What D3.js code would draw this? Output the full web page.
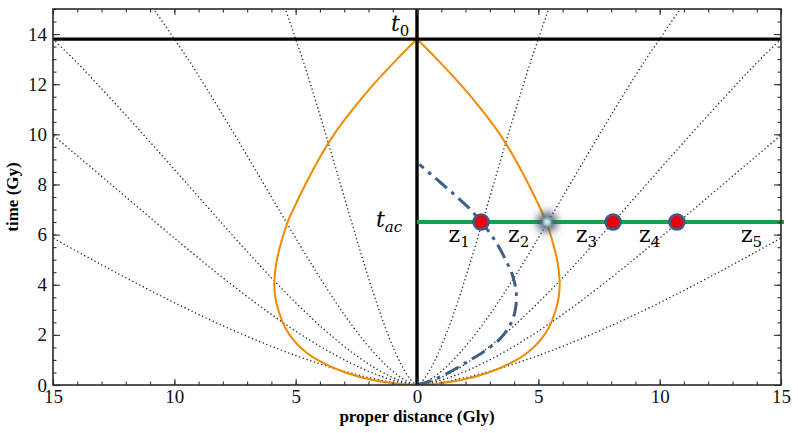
<!DOCTYPE html>
<html>
<head>
<meta charset="utf-8">
<script src="https://cdn.jsdelivr.net/npm/d3@7"></script>
<style>
  body { margin: 0; background: #fff; }
  svg text { font-family: "Liberation Serif", "DejaVu Serif", serif; }
  .math { font-family: "DejaVu Serif", serif; }
</style>
</head>
<body>
<svg id="chart"></svg>
<script>
    // scale factor a(t)/a0
    const ageGy = [0, 0.02, 0.05, 0.1, 0.25, 0.5, 1, 1.5, 2, 3, 4, 5, 6, 7, 8, 9, 10, 11, 12, 13, 13.8, 14, 15];
    const scaleFactor = [0, 0.011, 0.0203, 0.0322, 0.0593, 0.0942, 0.1496, 0.1962, 0.2381, 0.3133, 0.3817, 0.4463,
        0.5085, 0.5695, 0.6302, 0.6910, 0.7523, 0.8147, 0.8780, 0.9434, 1.0, 1.0139, 1.0851];
    // present-day distance of each comoving galaxy (Gly)
    const comovingGly = [5, 10, 15, 20, 30];

    // past light cone of the observer today (orange)
    const coneT = [0, 0.03, 0.1, 0.25, 0.5, 1, 1.5, 2, 3, 4, 5, 6, 6.5, 7, 8, 9, 10, 11, 12, 13, 13.8];
    const coneD = [0, 0.55, 1.2, 2.05, 2.95, 4.1, 4.8, 5.25, 5.72, 5.88, 5.77, 5.5, 5.33, 5.1, 4.6, 4.05, 3.42, 2.65, 1.78, 0.82, 0];

    // dash-dot blue curve
    const lookT = [0, 0.08, 0.3, 0.6, 1.0, 1.3, 1.8, 2.3, 2.9, 3.5, 4.3, 5.0, 6.0, 6.5, 7.0, 7.5, 8.2, 8.8];
    const lookD = [0, 0.3, 0.9, 1.5, 2.2, 2.7, 3.38, 3.78, 4.03, 4.1, 3.96, 3.65, 3.05, 2.65, 2.2, 1.65, 0.82, 0.1];

    const tNow = 13.8;
    const tAc = 6.5;
    const dotD = [2.64, 8.08, 10.71];   // red galaxies
    const glowD = 5.36;                 // galaxy on the light cone
    const zLabels = [["1", 1.55], ["2", 4.0], ["3", 6.8], ["4", 9.4], ["5", 13.6]];

    const xTicks = [-15, -10, -5, 0, 5, 10, 15];
    const yTicks = [0, 2, 4, 6, 8, 10, 12, 14];

    //dimensions
    const W = 798, H = 433;
    const margin = {top: 9, right: 17, bottom: 48, left: 53};

    const svg = d3.select("#chart").attr("width", W).attr("height", H);

    const x = d3.scaleLinear().domain([-15, 15]).range([margin.left, W - margin.right]);
    const y = d3.scaleLinear().domain([0, 15]).range([H - margin.bottom, margin.top]);

    const defs = svg.append("defs");
    defs.append("clipPath").attr("id", "clip")
        .append("rect")
        .attr("x", x(-15)).attr("y", y(15))
        .attr("width", x(15) - x(-15)).attr("height", y(0) - y(15));

    const plot = svg.append("g").attr("clip-path", "url(#clip)");

    const lineY = d3.line()
        .x(d => x(d[0]))
        .y(d => y(d[1]))
        .curve(d3.curveMonotoneY);

    // comoving worldlines
    comovingGly.forEach(D => {
        [-1, 1].forEach(s => {
            plot.append("path")
                .datum(ageGy.map((t, i) => [s * D * scaleFactor[i], t]))
                .attr("d", lineY)
                .attr("fill", "none")
                .attr("stroke", "#333")
                .attr("stroke-width", 1.6)
                .attr("stroke-linecap", "round")
                .attr("stroke-dasharray", "0 3.9");
        });
    });

    // orange light cone
    [-1, 1].forEach(s => {
        plot.append("path")
            .datum(coneT.map((t, i) => [s * coneD[i], t]))
            .attr("d", lineY)
            .attr("fill", "none")
            .attr("stroke", "#f28a00")
            .attr("stroke-width", 2);
    });

    // t0 line and x=0 line
    svg.append("line")
        .attr("x1", x(-15)).attr("x2", x(15))
        .attr("y1", y(tNow)).attr("y2", y(tNow))
        .attr("stroke", "#000").attr("stroke-width", 3.4);
    svg.append("line")
        .attr("x1", x(0)).attr("x2", x(0))
        .attr("y1", y(15)).attr("y2", y(0))
        .attr("stroke", "#000").attr("stroke-width", 3.4);

    // blue dash-dot
    plot.append("path")
        .datum(lookT.map((t, i) => [lookD[i], t]))
        .attr("d", lineY)
        .attr("fill", "none")
        .attr("stroke", "#3e5f86")
        .attr("stroke-width", 3)
        .attr("stroke-dasharray", "15 6 3.5 6");

    // green t_ac line
    svg.append("line")
        .attr("x1", x(0)).attr("x2", x(15) + 3)
        .attr("y1", y(tAc)).attr("y2", y(tAc))
        .attr("stroke", "#14a04c").attr("stroke-width", 4);

    // glowing galaxy
    defs.append("filter").attr("id", "blur").attr("x", "-100%").attr("y", "-100%").attr("width", "300%").attr("height", "300%")
        .append("feGaussianBlur").attr("stdDeviation", 4);
    defs.append("filter").attr("id", "blur2").attr("x", "-100%").attr("y", "-100%").attr("width", "300%").attr("height", "300%")
        .append("feGaussianBlur").attr("stdDeviation", 1.5);
    svg.append("circle")
        .attr("cx", x(glowD)).attr("cy", y(tAc)).attr("r", 10)
        .attr("fill", "#4a5670").attr("filter", "url(#blur)");
    svg.append("circle")
        .attr("cx", x(glowD)).attr("cy", y(tAc)).attr("r", 4)
        .attr("fill", "#c4ecf8").attr("filter", "url(#blur2)");

    // red galaxies
    svg.selectAll(".gal")
        .data(dotD)
        .enter().append("circle")
        .attr("class", "gal")
        .attr("cx", d => x(d)).attr("cy", y(tAc)).attr("r", 7.5)
        .attr("fill", "#e8000b")
        .attr("stroke", "#3f5a85").attr("stroke-width", 2.6);

    // axes, ticks inside
    const fmt = d => Math.abs(d);
    const minorX = d3.range(-15, 16, 1);
    const minorY = d3.range(0, 15.01, 0.5);

    function styleAxis(g) {
        g.select(".domain").remove();
        g.selectAll(".tick line").attr("stroke", "#333").attr("stroke-width", 1.1);
        g.selectAll("text").attr("font-size", 19).attr("fill", "#111")
            .style("font-family", "'Liberation Serif', serif");
    }

    svg.append("g").attr("transform", `translate(0,${y(0)})`)
        .call(d3.axisBottom(x).tickValues(minorX).tickSize(-3.5).tickFormat(""))
        .call(styleAxis);
    svg.append("g").attr("transform", `translate(0,${y(0)})`)
        .call(d3.axisBottom(x).tickValues(xTicks).tickSize(-6).tickPadding(5).tickFormat(fmt))
        .call(styleAxis);
    svg.append("g").attr("transform", `translate(0,${y(15)})`)
        .call(d3.axisTop(x).tickValues(minorX).tickSize(-3.5).tickFormat(""))
        .call(styleAxis);
    svg.append("g").attr("transform", `translate(0,${y(15)})`)
        .call(d3.axisTop(x).tickValues(xTicks).tickSize(-6).tickFormat(""))
        .call(styleAxis);

    svg.append("g").attr("transform", `translate(${x(-15)},0)`)
        .call(d3.axisLeft(y).tickValues(minorY).tickSize(-3.5).tickFormat(""))
        .call(styleAxis);
    svg.append("g").attr("transform", `translate(${x(-15)},0)`)
        .call(d3.axisLeft(y).tickValues(yTicks).tickSize(-7).tickPadding(6).tickFormat(d3.format("d")))
        .call(styleAxis);
    svg.append("g").attr("transform", `translate(${x(15)},0)`)
        .call(d3.axisRight(y).tickValues(minorY).tickSize(-3.5).tickFormat(""))
        .call(styleAxis);
    svg.append("g").attr("transform", `translate(${x(15)},0)`)
        .call(d3.axisRight(y).tickValues(yTicks).tickSize(-7).tickFormat(""))
        .call(styleAxis);

    // frame
    svg.append("rect")
        .attr("x", x(-15)).attr("y", y(15))
        .attr("width", x(15) - x(-15)).attr("height", y(0) - y(15))
        .attr("fill", "none").attr("stroke", "#2a2a2a").attr("stroke-width", 1.6);

    // axis titles
    svg.append("text")
        .attr("x", x(0)).attr("y", 422)
        .attr("text-anchor", "middle")
        .attr("font-size", 17).attr("font-weight", "bold")
        .text("proper distance (Gly)");
    svg.append("text")
        .attr("transform", `translate(18,${(y(0) + y(15)) / 2}) rotate(-90)`)
        .attr("text-anchor", "middle")
        .attr("font-size", 17).attr("font-weight", "bold")
        .text("time (Gy)");

    // math labels
    function mathLabel(px, py, main, sub, mainItalic, subItalic) {
        const t = svg.append("text").attr("class", "math")
            .attr("x", px).attr("y", py).attr("font-size", 22);
        t.append("tspan").style("font-style", mainItalic ? "italic" : "normal").text(main);
        t.append("tspan").attr("dy", 5).attr("font-size", 15)
            .style("font-style", subItalic ? "italic" : "normal").text(sub);
    }
    mathLabel(391, 31, "t", "0", true, false);
    mathLabel(376, 227, "t", "ac", true, true);
    zLabels.forEach(d => mathLabel(x(d[1]) - 6, 242, "z", d[0], false, false));
</script>
</body>
</html>
